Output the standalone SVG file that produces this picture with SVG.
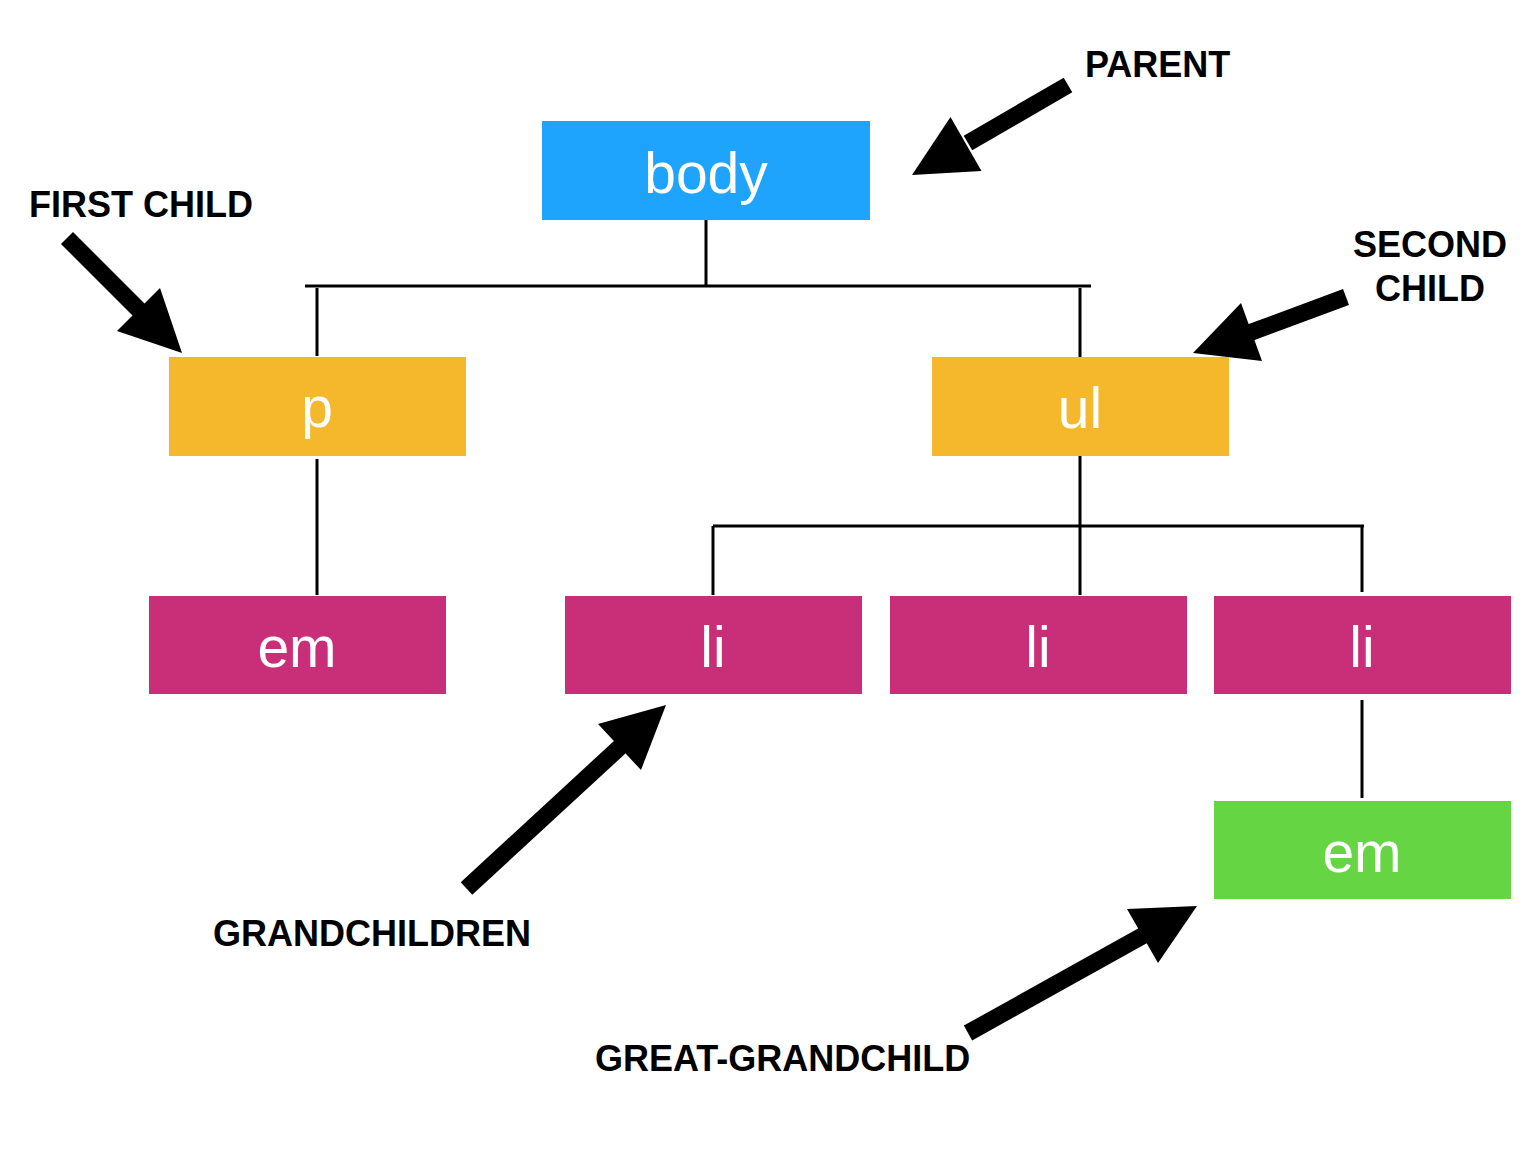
<svg xmlns="http://www.w3.org/2000/svg" width="1528" height="1150" viewBox="0 0 1528 1150">
<style>
.node-text{font-family:"Liberation Sans",Arial,sans-serif;font-size:57px;fill:#ffffff;text-anchor:middle}
.label{font-family:"Liberation Sans",Arial,sans-serif;font-size:36px;font-weight:bold;fill:#000000}
.conn{stroke:#000000;stroke-width:3;fill:none}
.shaft{stroke:#000000;stroke-width:17;fill:none}
.head{fill:#000000}
.blue{fill:#1EA4FC}
.orange{fill:#F5B72C}
.magenta{fill:#C92F78}
.green{fill:#66D544}
</style>
<rect width="1528" height="1150" fill="#ffffff"/>
<g id="connectors">
<line class="conn" x1="706" y1="218" x2="706" y2="285"/>
<line class="conn" x1="305" y1="286" x2="1091" y2="286"/>
<line class="conn" x1="317" y1="288" x2="317" y2="356"/>
<line class="conn" x1="1080" y1="288" x2="1080" y2="357"/>
<line class="conn" x1="317" y1="459" x2="317" y2="595"/>
<line class="conn" x1="1080" y1="450" x2="1080" y2="595"/>
<line class="conn" x1="713" y1="526" x2="1364" y2="526"/>
<line class="conn" x1="713" y1="526" x2="713" y2="595"/>
<line class="conn" x1="1362" y1="526" x2="1362" y2="592"/>
<line class="conn" x1="1362" y1="700" x2="1362" y2="798"/>
</g>
<g id="node-body"><rect class="blue" x="542" y="121" width="328" height="99"/><text class="node-text" x="706" y="193">body</text></g>
<g id="node-p"><rect class="orange" x="169" y="357" width="297" height="99"/><text class="node-text" x="317" y="427">p</text></g>
<g id="node-ul"><rect class="orange" x="932" y="357" width="297" height="99"/><text class="node-text" x="1080" y="428">ul</text></g>
<g id="node-em1"><rect class="magenta" x="149" y="596" width="297" height="98"/><text class="node-text" x="297" y="667">em</text></g>
<g id="node-li1"><rect class="magenta" x="565" y="596" width="297" height="98"/><text class="node-text" x="713" y="667">li</text></g>
<g id="node-li2"><rect class="magenta" x="890" y="596" width="297" height="98"/><text class="node-text" x="1038" y="667">li</text></g>
<g id="node-li3"><rect class="magenta" x="1214" y="596" width="297" height="98"/><text class="node-text" x="1362" y="667">li</text></g>
<g id="node-em2"><rect class="green" x="1214" y="801" width="297" height="98"/><text class="node-text" x="1362" y="872">em</text></g>
<g id="annotations">
<g id="arrow-parent"><line class="shaft" x1="1068" y1="85" x2="968" y2="143"/><polygon class="head" points="912,175 981.5,170.9 950.5,117.1"/></g>
<g id="arrow-first"><line class="shaft" x1="67" y1="238" x2="140" y2="311"/><polygon class="head" points="182,353 117,331 160,288"/></g>
<g id="arrow-second"><line class="shaft" x1="1346" y1="297" x2="1249" y2="333"/><polygon class="head" points="1193,353 1241,303 1262,361"/></g>
<g id="arrow-grand"><line class="shaft" x1="466.5" y1="888.5" x2="621" y2="746"/><polygon class="head" points="666,705 598,724 641,770"/></g>
<g id="arrow-great"><line class="shaft" x1="968" y1="1033" x2="1144" y2="935"/><polygon class="head" points="1197,906 1127,909 1158,963"/></g>
<text class="label" x="1085" y="77">PARENT</text>
<text class="label" x="29" y="217">FIRST CHILD</text>
<text class="label" x="1430" y="257" text-anchor="middle">SECOND</text>
<text class="label" x="1430" y="301" text-anchor="middle">CHILD</text>
<text class="label" x="213" y="946">GRANDCHILDREN</text>
<text class="label" x="595" y="1071">GREAT-GRANDCHILD</text>
</g>
</svg>
